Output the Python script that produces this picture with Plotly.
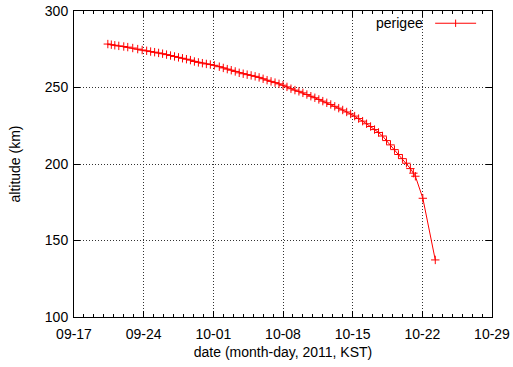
import plotly.graph_objects as go

# Perigee altitude (km) vs. date (KST, 2011)
dates = [
    "2011-09-20 09:36", "2011-09-20 18:00", "2011-09-21 02:24", "2011-09-21 12:00",
    "2011-09-22 00:00", "2011-09-22 09:36", "2011-09-22 21:36", "2011-09-23 09:36",
    "2011-09-23 20:24", "2011-09-24 07:12", "2011-09-24 16:48", "2011-09-25 02:24",
    "2011-09-25 12:00", "2011-09-25 21:36", "2011-09-26 07:12", "2011-09-26 16:48",
    "2011-09-27 02:24", "2011-09-27 12:00", "2011-09-27 21:36", "2011-09-28 07:12",
    "2011-09-28 16:48", "2011-09-29 02:24", "2011-09-29 12:00", "2011-09-29 21:36",
    "2011-09-30 07:12", "2011-09-30 16:48", "2011-10-01 02:24", "2011-10-01 14:24",
    "2011-10-02 00:00", "2011-10-02 09:36", "2011-10-02 19:12", "2011-10-03 04:48",
    "2011-10-03 14:24", "2011-10-04 00:00", "2011-10-04 09:36", "2011-10-04 19:12",
    "2011-10-05 04:48", "2011-10-05 14:24", "2011-10-06 00:00", "2011-10-06 09:36",
    "2011-10-06 19:12", "2011-10-07 04:48", "2011-10-07 14:24", "2011-10-08 00:00",
    "2011-10-08 09:36", "2011-10-08 19:12", "2011-10-09 04:48", "2011-10-09 14:24",
    "2011-10-10 00:00", "2011-10-10 09:36", "2011-10-10 19:12", "2011-10-11 04:48",
    "2011-10-11 14:24", "2011-10-12 00:00", "2011-10-12 09:36", "2011-10-12 19:12",
    "2011-10-13 04:48", "2011-10-13 14:24", "2011-10-14 00:00", "2011-10-14 09:36",
    "2011-10-14 19:12", "2011-10-15 04:48", "2011-10-15 14:24", "2011-10-16 00:00",
    "2011-10-16 09:36", "2011-10-16 19:12", "2011-10-17 04:48", "2011-10-17 14:24",
    "2011-10-18 00:00", "2011-10-18 09:36", "2011-10-18 19:12", "2011-10-19 04:48",
    "2011-10-19 14:24", "2011-10-20 00:00", "2011-10-20 09:36", "2011-10-20 19:12",
    "2011-10-21 02:24", "2011-10-21 07:12", "2011-10-22 01:12", "2011-10-23 07:12",
]
perigee_km = [
    278.4, 278.0, 277.6, 277.2, 276.8, 276.4, 275.8, 275.1,
    274.5, 274.0, 273.5, 273.1, 272.6, 272.1, 271.5, 270.9,
    270.3, 269.7, 269.1, 268.5, 267.9, 267.0, 266.4, 265.9,
    265.4, 265.0, 264.5, 263.6, 262.8, 262.0, 261.3, 260.5,
    259.6, 259.0, 258.4, 257.9, 257.3, 256.6, 255.7, 254.8,
    254.0, 253.2, 252.4, 251.5, 250.4, 249.2, 248.3, 247.5,
    246.5, 245.4, 244.3, 243.3, 242.2, 241.1, 240.0, 238.9,
    237.7, 236.5, 235.3, 234.0, 232.7, 231.3, 229.7, 228.0,
    226.3, 224.5, 222.5, 220.6, 218.3, 215.3, 212.5, 209.4,
    206.2, 203.5, 200.5, 197.0, 194.0, 192.0, 177.6, 137.3,
]
x_range = ["2011-09-17", "2011-10-29"]
y_range = [100, 300]
series_name = "perigee"

RED = "#ff0000"
FONT = "Liberation Sans, Arial, sans-serif"

fig = go.Figure()
fig.add_trace(go.Scatter(
    x=dates, y=perigee_km, mode="lines+markers", name=series_name,
    line=dict(color=RED, width=1),
    marker=dict(symbol="cross-thin", size=6, line=dict(color=RED, width=1), color=RED),
    showlegend=False,
))

axis_common = dict(
    showline=True, linecolor="black", linewidth=1, mirror="allticks",
    ticks="inside", ticklen=6, tickcolor="black", tickwidth=1,
    showgrid=True, gridcolor="#333333", gridwidth=1, griddash="1px,2px",
    zeroline=False, automargin=False,
    tickfont=dict(family=FONT, size=14, color="black"),
)

fig.update_xaxes(
    type="date", range=x_range, tick0="2011-09-17", dtick=7 * 86400000,
    tickformat="%m-%d", ticklabelstandoff=4,
    minor=dict(dtick=86400000, ticks="inside", ticklen=3, tickcolor="black", showgrid=False),
    title=dict(text="date (month-day, 2011, KST)", font=dict(family=FONT, size=14, color="black"), standoff=6),
    **axis_common,
)
fig.update_yaxes(
    range=y_range, dtick=50, ticklabelstandoff=2,
    title=dict(text="altitude (km)", font=dict(family=FONT, size=14, color="black"), standoff=20),
    **axis_common,
)

# legend (gnuplot style: text left of sample)
fig.add_annotation(xref="paper", yref="paper", x=0.84, y=0.96, xanchor="right", yanchor="middle",
                   text=series_name, showarrow=False, font=dict(family=FONT, size=14, color="black"))
fig.add_shape(type="line", xref="paper", yref="paper", x0=0.864, x1=0.962, y0=0.96, y1=0.96,
              line=dict(color=RED, width=1))
fig.add_shape(type="line", xref="paper", yref="paper", x0=0.913, x1=0.913, y0=0.948, y1=0.972,
              line=dict(color=RED, width=1))

fig.update_layout(
    width=513, height=367,
    margin=dict(l=74, r=21, t=11, b=50),
    paper_bgcolor="white", plot_bgcolor="white",
    font=dict(family=FONT, size=14, color="black"),
)

fig.write_html("out.html")
